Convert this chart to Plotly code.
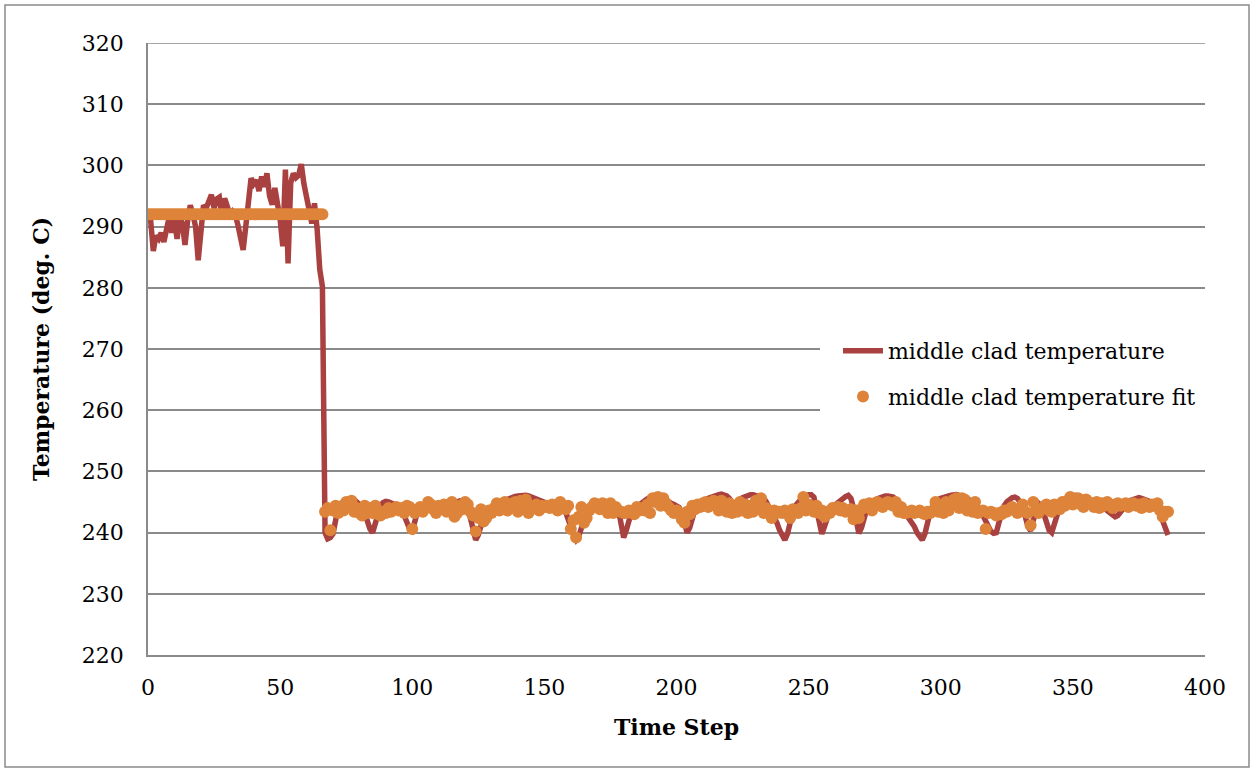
import plotly.graph_objects as go

# Time-step index (x categories)
time_steps = list(range(0, 387))

# middle clad temperature, t = 0..66 (before the drop)
temp_start = [292.0, 291.0, 286.0, 288.5, 288.0, 289.0, 287.5, 290.0, 291.5, 289.0,
              291.0, 288.0, 291.5, 290.5, 287.0, 291.0, 293.5, 292.0, 290.0, 284.5,
              289.0, 293.5, 293.0, 294.0, 295.2, 293.0, 294.5, 294.8, 291.5, 294.6,
              293.0, 292.0, 292.5, 292.0, 290.3, 288.0, 286.2, 290.0, 295.0, 297.9,
              297.0, 297.6, 295.8, 298.2, 296.5, 298.7, 295.0, 293.6, 296.3, 294.0,
              291.2, 286.8, 299.3, 284.0, 297.1, 298.7, 298.0, 298.4, 300.2, 297.0,
              294.5, 292.0, 290.5, 293.8, 289.6, 283.0, 280.2]

# middle clad temperature, t = 67..386
temp_tail = [240.0, 239.0, 239.2, 239.8, 242.0, 244.2, 244.8, 245.0, 245.2, 245.3,
             245.5, 245.4, 245.0, 244.6, 244.2, 243.2, 241.8, 240.6, 240.0, 241.4,
             243.4, 244.4, 244.9, 245.1, 245.0, 244.8, 244.6, 244.5, 244.3, 243.8,
             242.8, 241.6, 240.6, 240.3, 241.8, 243.4, 244.0, 244.3, 244.5, 244.6,
             244.7, 244.6, 244.5, 244.4, 244.6, 244.8, 245.0, 245.1, 245.0, 244.9,
             245.0, 245.2, 245.2, 245.0, 244.2, 242.6, 240.6, 238.8, 239.6, 241.4,
             242.6, 243.2, 243.6, 244.0, 244.3, 244.6, 244.9, 245.1, 245.3, 245.5,
             245.6, 245.8, 245.9, 246.0, 246.1, 246.2, 246.1, 246.0, 245.8, 245.6,
             245.4, 245.2, 245.0, 244.9, 244.8, 244.7, 244.6, 244.5, 244.4, 244.3,
             244.0, 243.4, 242.4, 241.0, 239.6, 238.8, 239.4, 241.0, 242.4, 243.4,
             244.0, 244.4, 244.6, 244.7, 244.8, 244.8, 244.7, 244.6, 244.5, 244.5,
             244.4, 243.8, 241.6, 239.2, 240.4, 242.4, 243.4, 243.9, 244.3, 244.6,
             244.9, 245.2, 245.5, 245.8, 246.0, 246.1, 246.0, 245.8, 245.5, 245.2,
             245.0, 244.8, 244.6, 244.4, 244.1, 243.2, 241.6, 240.0, 240.8, 242.6,
             243.8, 244.4, 244.8, 245.1, 245.4, 245.6, 245.8, 246.0, 246.1, 246.2,
             246.3, 246.2, 246.0, 245.6, 245.0, 244.8, 245.0, 245.4, 245.7, 245.9,
             246.1, 246.2, 246.2, 246.1, 246.0, 245.9, 245.6, 245.0, 244.2, 243.4,
             242.6, 241.6, 240.4, 239.4, 238.8, 239.8, 241.8, 243.4, 244.4, 245.0,
             245.4, 245.7, 246.0, 246.2, 246.2, 245.8, 243.8, 241.2, 239.8, 241.0,
             242.6, 243.6, 244.2, 244.6, 245.0, 245.3, 245.6, 245.9, 246.1, 245.6,
             244.0, 241.6, 239.9, 240.8, 242.6, 243.8, 244.6, 245.0, 245.3, 245.5,
             245.7, 245.9, 246.0, 246.0, 245.9, 245.8, 245.4, 244.8, 244.2, 243.6,
             243.0, 242.4, 241.8, 241.0, 240.0, 239.2, 238.8, 239.8, 241.8, 243.4,
             244.4, 245.0, 245.4, 245.6, 245.8, 245.9, 246.0, 246.1, 246.2, 246.2,
             246.1, 246.0, 245.8, 245.6, 245.3, 245.0, 244.6, 244.2, 243.6, 242.8,
             241.8, 240.8, 240.2, 239.9, 240.0, 241.6, 243.2, 244.4, 245.0, 245.4,
             245.7, 245.8, 245.6, 245.0, 244.0, 242.6, 241.0, 240.3, 242.0, 243.8,
             244.8, 244.4, 243.2, 241.6, 240.4, 240.0, 241.4, 243.0, 244.2, 245.0,
             245.5, 245.8, 246.0, 246.1, 246.1, 246.0, 245.9, 245.8, 245.6, 245.4,
             245.2, 245.0, 244.8, 244.6, 244.4, 244.0, 243.6, 243.2, 242.8, 242.6,
             242.8, 243.4, 244.0, 244.6, 245.0, 245.3, 245.5, 245.6, 245.7, 245.6,
             245.4, 245.2, 245.1, 245.0, 244.8, 244.2, 243.0, 242.0, 240.8, 239.6]

# middle clad temperature fit, t = 0..66
fit_start = [292.0, 292.0, 292.0, 292.0, 292.0, 292.0, 292.0, 292.0, 292.0, 292.0,
             292.0, 292.0, 292.0, 292.0, 292.0, 292.0, 292.0, 292.0, 292.0, 292.0,
             292.0, 292.0, 292.0, 292.0, 292.0, 292.0, 292.0, 292.0, 292.0, 292.0,
             292.0, 292.0, 292.0, 292.0, 292.0, 292.0, 292.0, 292.0, 292.0, 292.0,
             292.0, 292.0, 292.0, 292.0, 292.0, 292.0, 292.0, 292.0, 292.0, 292.0,
             292.0, 292.0, 292.0, 292.0, 292.0, 292.0, 292.0, 292.0, 292.0, 292.0,
             292.0, 292.0, 292.0, 292.0, 292.0, 292.0, 292.0]

# middle clad temperature fit, t = 67..386
fit_tail = [243.4, 244.0, 240.4, 243.6, 244.4, 243.2, 244.2, 243.6, 245.0, 244.4,
            245.2, 243.4, 244.0, 243.2, 242.8, 244.4, 243.2, 244.0, 243.2, 244.4,
            243.0, 242.8, 243.4, 243.2, 244.0, 243.4, 243.8, 244.2, 243.6, 244.0,
            243.2, 244.4, 244.2, 240.6, 243.2, 243.6, 244.2, 243.4, 244.0, 245.0,
            244.6, 243.8, 243.2, 244.4, 243.8, 244.6, 243.4, 244.2, 245.0, 242.6,
            243.2, 244.4, 243.8, 245.0, 244.6, 243.4, 242.8, 240.2, 242.4, 243.8,
            241.8, 242.4, 243.6, 243.2, 244.0, 244.8, 243.6, 244.6, 245.0, 243.6,
            244.2, 244.8, 245.0, 243.4, 245.2, 244.6, 245.4, 243.2, 244.4, 244.0,
            244.6, 243.6, 244.4, 244.2, 244.4, 244.0, 244.6, 244.4, 243.6, 245.0,
            244.2, 243.8, 244.4, 240.6, 242.0, 239.2, 242.6, 244.2, 241.6, 242.4,
            243.6, 244.2, 244.8, 244.6, 243.8, 244.8, 244.6, 243.2, 244.8, 243.2,
            244.2, 243.6, 243.4, 243.2, 243.2, 243.6, 243.4, 243.0, 244.2, 243.6,
            244.0, 243.6, 244.6, 243.2, 245.6, 245.0, 245.8, 244.4, 245.6, 244.8,
            244.2, 243.6, 243.2, 243.6, 243.2, 242.2, 241.6, 243.4, 243.0, 244.4,
            243.8, 244.6, 244.2, 244.8, 245.0, 244.2, 244.6, 245.2, 244.6, 243.6,
            245.2, 244.4, 243.4, 244.8, 243.2, 244.0, 243.4, 245.0, 243.6, 244.6,
            243.2, 244.4, 243.4, 245.2, 244.2, 245.6, 243.2, 244.0, 243.6, 242.4,
            243.6, 243.2, 243.4, 243.2, 243.6, 243.2, 242.4, 243.8, 243.4, 243.2,
            244.0, 245.8, 243.6, 244.6, 244.0, 243.4, 244.4, 243.2, 243.6, 242.6,
            243.4, 243.2, 244.0, 243.8, 244.2, 243.6, 244.0, 243.4, 243.6, 243.8,
            242.2, 243.6, 242.4, 243.8, 244.6, 244.2, 244.8, 243.6, 244.8, 245.0,
            244.6, 244.2, 244.8, 245.0, 244.6, 244.4, 245.0, 243.4, 244.2, 243.2,
            243.2, 243.4, 243.6, 243.2, 243.4, 243.6, 243.2, 243.0, 243.4, 243.2,
            243.6, 245.0, 243.4, 244.2, 243.2, 245.0, 243.6, 244.8, 245.4, 245.6,
            244.0, 245.6, 245.4, 243.6, 244.2, 243.4, 245.0, 243.2, 243.4, 243.6,
            240.6, 243.2, 243.4, 243.2, 242.8, 243.2, 243.0, 243.6, 243.4, 243.8,
            244.2, 243.6, 243.2, 243.6, 244.6, 243.4, 243.2, 241.2, 245.0, 243.6,
            243.2, 243.8, 244.2, 244.6, 243.6, 243.4, 244.6, 244.2, 243.8, 245.0,
            244.4, 245.2, 245.8, 244.6, 245.0, 245.6, 244.6, 244.2, 245.4, 245.0,
            244.6, 244.2, 245.0, 244.0, 244.8, 244.4, 245.0, 244.6, 244.0, 244.6,
            244.8, 244.4, 244.6, 244.8, 244.2, 244.6, 244.8, 244.4, 244.6, 244.0,
            244.8, 244.4, 244.2, 244.6, 244.4, 244.8, 243.6, 242.6, 243.4, 243.4]

temperature = temp_start + temp_tail
temperature_fit = fit_start + fit_tail

y_ticks = [220, 230, 240, 250, 260, 270, 280, 290, 300, 310, 320]
x_ticks = [0, 50, 100, 150, 200, 250, 300, 350, 400]

FONT = "DejaVu Serif"
LINE_COLOR = "#A8413F"
FIT_COLOR = "#DE843A"
GRID = "#8A8A8A"

fig = go.Figure()
fig.add_trace(go.Scatter(
    x=time_steps, y=temperature, mode="lines",
    name="middle clad temperature",
    line=dict(color=LINE_COLOR, width=5.5),
    legendgroup="a",
))
fig.add_trace(go.Scatter(
    x=time_steps, y=temperature_fit, mode="markers",
    name="middle clad temperature fit",
    marker=dict(color=FIT_COLOR, size=12, line=dict(width=0)),
    legendgroup="b",
))

W, H = 1254, 772
L, R, T, B = 148, 49, 43, 117
pw, ph = W - L - R, H - T - B

def px_to_paper_x(px):
    return (px - L) / pw

def px_to_paper_y(py):
    return (H - B - py) / ph

fig.update_layout(
    width=W, height=H,
    margin=dict(l=L, r=R, t=T, b=B, pad=0),
    paper_bgcolor="white", plot_bgcolor="white",
    font=dict(family=FONT, size=22, color="black"),
    showlegend=True,
    legend=dict(
        x=px_to_paper_x(838), y=px_to_paper_y(330),
        xanchor="left", yanchor="top",
        bgcolor="rgba(255,255,255,0)",
        font=dict(family=FONT, size=22, color="black"),
        tracegroupgap=14,
        traceorder="grouped",
        itemwidth=40,
    ),
    xaxis=dict(
        range=[0, 400], tickvals=x_ticks, ticktext=[str(v) for v in x_ticks],
        showgrid=False, zeroline=False,
        showline=True, linecolor=GRID, linewidth=1.5,
        ticks="", ticklabelstandoff=12,
        title=dict(text="<b>Time Step</b>", font=dict(family=FONT, size=22), standoff=20),
    ),
    yaxis=dict(
        range=[220, 320], tickvals=y_ticks, ticktext=[str(v) for v in y_ticks],
        showgrid=True, gridcolor=GRID, gridwidth=1.5,
        zeroline=False,
        showline=True, linecolor=GRID, linewidth=1.5,
        ticks="", ticklabelstandoff=18,
        title=dict(text="<b>Temperature (deg. C)</b>", font=dict(family=FONT, size=22), standoff=26),
    ),
    shapes=[
        dict(type="rect", xref="paper", yref="paper",
             x0=px_to_paper_x(5), x1=px_to_paper_x(1249),
             y0=px_to_paper_y(767), y1=px_to_paper_y(5),
             line=dict(color="#8A8A8A", width=1.5), fillcolor="rgba(0,0,0,0)",
             layer="below"),
        dict(type="line", xref="paper", yref="y",
             x0=0, x1=1, y0=320, y1=320,
             line=dict(color=GRID, width=1.5), layer="below"),
        dict(type="rect", xref="paper", yref="paper",
             x0=px_to_paper_x(820), x1=1.002,
             y0=px_to_paper_y(424), y1=px_to_paper_y(326),
             line=dict(width=0), fillcolor="white",
             layer="above"),
    ],
)

fig.write_html("out.html")
